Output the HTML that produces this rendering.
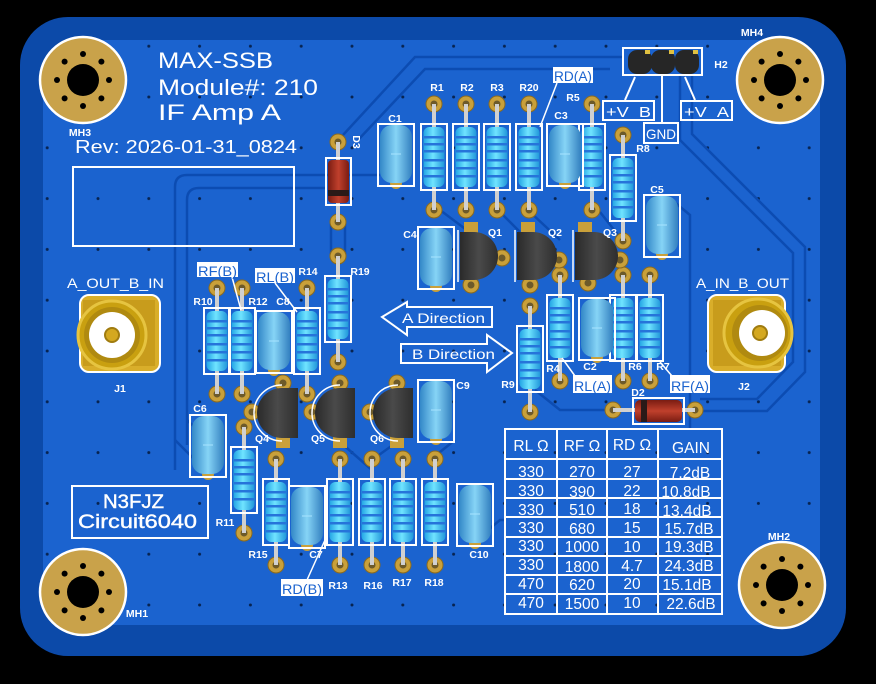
<!DOCTYPE html>
<html><head><meta charset="utf-8"><style>
html,body{margin:0;padding:0;background:#000;}
svg{display:block;}
text{font-family:"Liberation Sans",sans-serif;fill:#fff;}
.s{font-weight:bold;font-size:10.5px;text-anchor:middle;}
.inv{font-size:14px;fill:#1b63cf;}
</style></head><body>
<svg width="876" height="684" viewBox="0 0 876 684" xmlns="http://www.w3.org/2000/svg">
<defs>
<linearGradient id="rg" x1="0" x2="1" y1="0" y2="0">
<stop offset="0" stop-color="#22a4e4"/><stop offset="0.45" stop-color="#70e4ff"/><stop offset="1" stop-color="#2096da"/>
</linearGradient>
<linearGradient id="cg" x1="0" x2="1" y1="0" y2="0">
<stop offset="0" stop-color="#3388c8"/><stop offset="0.5" stop-color="#86d4f6"/><stop offset="1" stop-color="#3380c0"/>
</linearGradient>
<linearGradient id="tg" x1="0" x2="1" y1="0" y2="0">
<stop offset="0" stop-color="#2a2a2a"/><stop offset="0.5" stop-color="#4a4a4a"/><stop offset="1" stop-color="#2e2e2e"/>
</linearGradient>
<linearGradient id="dg" x1="0" x2="1" y1="0" y2="0">
<stop offset="0" stop-color="#7a1c12"/><stop offset="0.5" stop-color="#c0402c"/><stop offset="1" stop-color="#7a1c12"/>
</linearGradient>
<linearGradient id="dgh" x1="0" x2="0" y1="0" y2="1">
<stop offset="0" stop-color="#7a1c12"/><stop offset="0.5" stop-color="#c0402c"/><stop offset="1" stop-color="#7a1c12"/>
</linearGradient>
<pattern id="dots" patternUnits="userSpaceOnUse" x="72.6" y="71.6" width="50.8" height="50.8">
<circle cx="25.4" cy="25.4" r="1.5" fill="#072350"/>
</pattern>
<g id="pad"><circle r="8" fill="#c9a03a" stroke="#8a6a20" stroke-width="1"/><circle r="3.5" fill="#6d5a2a"/></g>
<g id="res">
<use href="#pad" y="-53"/><use href="#pad" y="53"/>
<line x1="0" y1="-53" x2="0" y2="53" stroke="#d0d0d0" stroke-width="4"/>
<rect x="-13" y="-33" width="26" height="66" fill="none" stroke="#fff" stroke-width="2"/>
<rect x="-10.5" y="-30" width="21" height="60" rx="6" fill="url(#rg)"/>
<g fill="#2674da">
<rect x="-10" y="-21" width="20" height="2.5"/><rect x="-10" y="-14" width="20" height="2.5"/>
<rect x="-10" y="-7" width="20" height="2.5"/><rect x="-10" y="2" width="20" height="2.5"/>
<rect x="-10" y="10" width="20" height="2.5"/><rect x="-10" y="18" width="20" height="2.5"/>
</g>
</g>
<g id="cap">
<circle cy="29" r="6" fill="#c9a03a"/>
<rect x="-18" y="-30" width="36" height="62" fill="none" stroke="#fff" stroke-width="2"/>
<rect x="-16" y="-29" width="32" height="58" rx="12" fill="url(#cg)"/>
<line x1="-5" y1="0" x2="5" y2="0" stroke="#a8e4ff" stroke-width="1"/>
</g>
<g id="mh">
<circle r="43" fill="#c9a24a" stroke="#fff" stroke-width="2.5"/>
<circle r="16" fill="#000"/>
<g fill="#000">
<circle cx="26" r="3"/><circle cx="-26" r="3"/><circle cy="26" r="3"/><circle cy="-26" r="3"/>
<circle cx="18.4" cy="18.4" r="3"/><circle cx="-18.4" cy="18.4" r="3"/><circle cx="18.4" cy="-18.4" r="3"/><circle cx="-18.4" cy="-18.4" r="3"/>
</g>
</g>
</defs>

<rect width="876" height="684" fill="#000"/>
<!-- board -->
<rect x="20" y="17" width="826" height="639" rx="48" fill="#0c4aa9"/>
<rect x="43" y="40" width="777" height="585" rx="38" fill="#1b63cf"/>
<rect x="43" y="40" width="777" height="585" rx="38" fill="url(#dots)"/>

<!-- traces -->
<g fill="none" stroke="#0c4cb2" stroke-width="2.5">
<path d="M175,470 V187 Q175,175 187,175 H380"/>
<path d="M187,445 V200 Q187,188 199,188 H326"/>
<path d="M343,135 L415,57 H622"/>
<path d="M358,140 L425,69 H610"/>
<path d="M680,76 V140 L793,253 V362 L757,399 H700"/>
<path d="M692,76 V134 L805,247 V372 L767,411 H700"/>
<path d="M672,200 L690,215 V430"/>
<path d="M331,222 V256 M345,222 V256"/>
<path d="M175,440 L200,465"/>
<path d="M187,420 L205,437"/>
<path d="M440,210 L480,240"/>
<path d="M500,212 L520,232"/>
<path d="M535,390 L560,410 H613"/>
<path d="M340,442 L372,470"/>
<path d="M397,442 L372,460"/>
<path d="M430,460 L455,440"/>
<path d="M470,545 L500,520 H505"/>
<path d="M530,212 L560,240"/>
<path d="M600,212 L622,240"/>
</g>

<!-- mounting holes -->
<use href="#mh" x="83" y="80"/>
<use href="#mh" x="780" y="80"/>
<use href="#mh" x="83" y="592"/>
<use href="#mh" x="782" y="585"/>
<text class="s" x="80" y="136">MH3</text>
<text class="s" x="752" y="36">MH4</text>
<text class="s" x="137" y="617">MH1</text>
<text class="s" x="779" y="540">MH2</text>

<!-- title -->
<text x="158" y="68" font-size="22" textLength="115" lengthAdjust="spacingAndGlyphs">MAX-SSB</text>
<text x="158" y="95" font-size="22" textLength="160" lengthAdjust="spacingAndGlyphs">Module#: 210</text>
<text x="158" y="120" font-size="22" textLength="123" lengthAdjust="spacingAndGlyphs">IF Amp A</text>
<text x="75" y="153" font-size="18" textLength="222" lengthAdjust="spacingAndGlyphs">Rev: 2026-01-31_0824</text>
<rect x="73" y="167" width="221" height="79" fill="none" stroke="#fff" stroke-width="2"/>

<!-- N3FJZ -->
<rect x="72" y="486" width="136" height="52" fill="none" stroke="#fff" stroke-width="2"/>
<text x="103" y="508" font-size="19" textLength="61" lengthAdjust="spacingAndGlyphs" stroke="#fff" stroke-width="0.4">N3FJZ</text>
<text x="78" y="528" font-size="19" textLength="119" lengthAdjust="spacingAndGlyphs" stroke="#fff" stroke-width="0.4">Circuit6040</text>

<!-- connectors -->
<text x="67" y="288" font-size="14" textLength="97" lengthAdjust="spacingAndGlyphs">A_OUT_B_IN</text>
<text x="696" y="288" font-size="14" textLength="93" lengthAdjust="spacingAndGlyphs">A_IN_B_OUT</text>
<g>
<rect x="80" y="295" width="80" height="77" rx="9" fill="#d9ae2a" stroke="#fff" stroke-width="2"/>
<rect x="83" y="300" width="72" height="66" fill="#c89c1c"/>
<circle cx="112" cy="335" r="34" fill="#c9a010" stroke="#e6c440" stroke-width="3"/>
<circle cx="112" cy="335" r="28" fill="#b08a10"/>
<circle cx="112" cy="335" r="23" fill="#fff"/>
<circle cx="112" cy="335" r="7" fill="#d4a820" stroke="#a07c10" stroke-width="2"/>
</g>
<text class="s" x="120" y="392">J1</text>
<g>
<rect x="708" y="295" width="77" height="77" rx="9" fill="#d9ae2a" stroke="#fff" stroke-width="2"/>
<rect x="713" y="300" width="68" height="66" fill="#c89c1c"/>
<circle cx="758" cy="333" r="34" fill="#c9a010" stroke="#e6c440" stroke-width="3"/>
<circle cx="760" cy="333" r="28" fill="#b08a10"/>
<circle cx="762" cy="333" r="23" fill="#fff"/>
<circle cx="760" cy="333" r="7" fill="#d4a820" stroke="#a07c10" stroke-width="2"/>
</g>
<text class="s" x="744" y="390">J2</text>

<!-- header H2 -->
<rect x="623" y="48" width="79" height="27" fill="none" stroke="#fff" stroke-width="2"/>
<g fill="#262626">
<rect x="628" y="50" width="24" height="24" rx="9"/>
<rect x="651" y="50" width="24" height="24" rx="9"/>
<rect x="675" y="50" width="24" height="24" rx="9"/>
</g>
<g fill="#e0c040"><rect x="645" y="50" width="5" height="4"/><rect x="669" y="50" width="5" height="4"/><rect x="693" y="50" width="5" height="4"/></g>
<text class="s" x="721" y="68">H2</text>
<g stroke="#fff" stroke-width="2" fill="none">
<path d="M635,77 L625,100"/><path d="M662,75 V123"/><path d="M685,77 L695,100"/>
<rect x="603" y="101" width="51" height="19"/>
<rect x="644" y="123" width="34" height="20"/>
<rect x="681" y="101" width="51" height="19"/>
</g>
<text x="606" y="117" font-size="15" textLength="45" lengthAdjust="spacingAndGlyphs">+V_B</text>
<text x="646" y="139" font-size="14" textLength="30" lengthAdjust="spacingAndGlyphs">GND</text>
<text x="684" y="117" font-size="15" textLength="45" lengthAdjust="spacingAndGlyphs">+V_A</text>

<!-- D3 -->
<use href="#pad" x="338" y="142"/><use href="#pad" x="338" y="222"/>
<use href="#pad" x="338" y="256"/>
<line x1="338" y1="142" x2="338" y2="222" stroke="#d0d0d0" stroke-width="4"/>
<rect x="326" y="158" width="25" height="47" fill="none" stroke="#fff" stroke-width="2"/>
<rect x="328" y="160" width="21" height="43" rx="4" fill="url(#dg)"/>
<rect x="328" y="190" width="21" height="6" fill="#2a1a18"/>
<text class="s" x="357" y="142" transform="rotate(90 357 142)" dy="4">D3</text>

<!-- D2 -->
<use href="#pad" x="613" y="410"/><use href="#pad" x="695" y="410"/>
<line x1="613" y1="410" x2="695" y2="410" stroke="#d0d0d0" stroke-width="4"/>
<rect x="633" y="398" width="51" height="26" fill="none" stroke="#fff" stroke-width="2"/>
<rect x="635" y="400" width="47" height="22" rx="5" fill="url(#dgh)"/>
<rect x="641" y="400" width="6" height="22" fill="#2a1a18"/>
<text class="s" x="638" y="396">D2</text>

<!-- resistors -->
<use href="#res" x="434" y="157"/>
<use href="#res" x="466" y="157"/>
<use href="#res" x="497" y="157"/>
<use href="#res" x="529" y="157"/>
<use href="#res" x="592" y="157"/>
<use href="#res" x="623" y="188"/>
<use href="#res" x="338" y="309"/>
<use href="#res" x="217" y="341"/>
<use href="#res" x="242" y="341"/>
<use href="#res" x="307" y="341"/>
<use href="#res" x="560" y="328"/>
<use href="#res" x="623" y="328"/>
<use href="#res" x="650" y="328"/>
<use href="#res" x="530" y="359"/>
<use href="#res" x="244" y="480"/>
<use href="#res" x="276" y="512"/>
<use href="#res" x="340" y="512"/>
<use href="#res" x="372" y="512"/>
<use href="#res" x="403" y="512"/>
<use href="#res" x="435" y="512"/>

<!-- capacitors -->
<use href="#cap" x="396" y="154"/>
<use href="#cap" x="565" y="154"/>
<use href="#cap" x="662" y="225"/>
<use href="#cap" x="436" y="257"/>
<use href="#cap" x="274" y="341"/>
<use href="#cap" x="597" y="328"/>
<use href="#cap" x="436" y="410"/>
<use href="#cap" x="208" y="445"/>
<use href="#cap" x="307" y="516"/>
<use href="#cap" x="475" y="514"/>

<!-- transistors Q1-Q3 -->
<g>
<rect x="464" y="222" width="14" height="12" fill="#c9a03a"/>
<rect x="521" y="222" width="14" height="12" fill="#c9a03a"/>
<rect x="578" y="222" width="14" height="12" fill="#c9a03a"/>
<use href="#pad" x="502" y="258"/><use href="#pad" x="471" y="285"/>
<use href="#pad" x="559" y="260"/><use href="#pad" x="530" y="285"/>
<use href="#pad" x="620" y="260"/><use href="#pad" x="588" y="283"/>
<g fill="none" stroke="#fff" stroke-width="1.5">
<path d="M458,230 V282"/><path d="M515,230 V282"/><path d="M573,230 V282"/>
</g>
<path d="M460,232 H474 A24,24 0 0 1 474,280 H460 Z" fill="url(#tg)"/>
<path d="M517,232 H533 A24,24 0 0 1 533,280 H517 Z" fill="url(#tg)"/>
<path d="M575,232 H594 A24,24 0 0 1 594,280 H575 Z" fill="url(#tg)"/>
</g>
<!-- transistors Q4-Q6 -->
<g>
<rect x="276" y="436" width="14" height="12" fill="#c9a03a"/>
<rect x="333" y="436" width="14" height="12" fill="#c9a03a"/>
<rect x="390" y="436" width="14" height="12" fill="#c9a03a"/>
<use href="#pad" x="283" y="383"/><use href="#pad" x="252" y="412"/>
<use href="#pad" x="340" y="383"/><use href="#pad" x="312" y="412"/>
<use href="#pad" x="397" y="383"/><use href="#pad" x="370" y="412"/>
<g fill="none" stroke="#fff" stroke-width="1.5">
<path d="M282,385 A27,27 0 0 0 282,441"/>
<path d="M340,385 A27,27 0 0 0 340,441"/>
<path d="M398,385 A27,27 0 0 0 398,441"/>
</g>
<path d="M298,388 H282 A25,25 0 0 0 282,438 H298 Z" fill="url(#tg)"/>
<path d="M355,388 H340 A25,25 0 0 0 340,438 H355 Z" fill="url(#tg)"/>
<path d="M413,388 H398 A25,25 0 0 0 398,438 H413 Z" fill="url(#tg)"/>
</g>

<!-- component labels -->
<text class="s" x="437" y="91">R1</text>
<text class="s" x="467" y="91">R2</text>
<text class="s" x="497" y="91">R3</text>
<text class="s" x="529" y="91">R20</text>
<text class="s" x="573" y="101">R5</text>
<text class="s" x="395" y="122">C1</text>
<text class="s" x="561" y="119">C3</text>
<text class="s" x="643" y="152">R8</text>
<text class="s" x="657" y="193">C5</text>
<text class="s" x="410" y="238">C4</text>
<text class="s" x="495" y="236">Q1</text>
<text class="s" x="555" y="236">Q2</text>
<text class="s" x="610" y="236">Q3</text>
<text class="s" x="203" y="305">R10</text>
<text class="s" x="258" y="305">R12</text>
<text class="s" x="283" y="305">C8</text>
<text class="s" x="308" y="275">R14</text>
<text class="s" x="360" y="275">R19</text>
<text class="s" x="200" y="412">C6</text>
<text class="s" x="463" y="389">C9</text>
<text class="s" x="262" y="442">Q4</text>
<text class="s" x="318" y="442">Q5</text>
<text class="s" x="377" y="442">Q6</text>
<text class="s" x="553" y="372">R4</text>
<text class="s" x="590" y="370">C2</text>
<text class="s" x="635" y="370">R6</text>
<text class="s" x="663" y="370">R7</text>
<text class="s" x="508" y="388">R9</text>
<text class="s" x="225" y="526">R11</text>
<text class="s" x="258" y="558">R15</text>
<text class="s" x="316" y="558">C7</text>
<text class="s" x="338" y="589">R13</text>
<text class="s" x="373" y="589">R16</text>
<text class="s" x="402" y="586">R17</text>
<text class="s" x="434" y="586">R18</text>
<text class="s" x="479" y="558">C10</text>

<!-- inverted labels and leaders -->
<g stroke="#fff" stroke-width="1.5">
<line x1="557" y1="83" x2="540" y2="127"/>
<line x1="232" y1="277" x2="241" y2="310"/>
<line x1="275" y1="283" x2="297" y2="312"/>
<line x1="575" y1="376" x2="562" y2="358"/>
<line x1="672" y1="376" x2="660" y2="362"/>
<line x1="307" y1="580" x2="325" y2="540"/>
</g>
<g fill="#fff">
<rect x="553" y="67" width="40" height="16"/>
<rect x="197" y="262" width="41" height="15"/>
<rect x="255" y="268" width="40" height="15"/>
<rect x="573" y="375" width="39" height="18"/>
<rect x="670" y="375" width="40" height="18"/>
<rect x="281" y="579" width="42" height="17"/>
</g>
<text class="inv" x="554" y="81" textLength="38" lengthAdjust="spacingAndGlyphs">RD(A)</text>
<text class="inv" x="198" y="276" textLength="39" lengthAdjust="spacingAndGlyphs">RF(B)</text>
<text class="inv" x="256" y="282" textLength="38" lengthAdjust="spacingAndGlyphs">RL(B)</text>
<text class="inv" x="574" y="391" textLength="37" lengthAdjust="spacingAndGlyphs">RL(A)</text>
<text class="inv" x="671" y="391" textLength="38" lengthAdjust="spacingAndGlyphs">RF(A)</text>
<text class="inv" x="282" y="594" textLength="40" lengthAdjust="spacingAndGlyphs">RD(B)</text>

<!-- direction arrows -->
<path d="M382,317 L407,302 V307 H492 V327 H407 V335 Z" fill="none" stroke="#fff" stroke-width="2"/>
<text x="402" y="323" font-size="14" textLength="83" lengthAdjust="spacingAndGlyphs">A Direction</text>
<path d="M401,344 H487 V335 L512,353 L487,372 V363 H401 Z" fill="none" stroke="#fff" stroke-width="2"/>
<text x="412" y="359" font-size="14" textLength="83" lengthAdjust="spacingAndGlyphs">B Direction</text>

<!-- table -->
<g stroke="#fff" stroke-width="2" fill="none">
<rect x="505" y="429" width="217" height="185"/>
<line x1="557" y1="429" x2="557" y2="614"/>
<line x1="607" y1="429" x2="607" y2="614"/>
<line x1="658" y1="429" x2="658" y2="614"/>
<line x1="505" y1="459" x2="722" y2="459"/>
<line x1="505" y1="479" x2="722" y2="479"/>
<line x1="505" y1="498" x2="722" y2="498"/>
<line x1="505" y1="517" x2="722" y2="517"/>
<line x1="505" y1="537" x2="722" y2="537"/>
<line x1="505" y1="556" x2="722" y2="556"/>
<line x1="505" y1="575" x2="722" y2="575"/>
<line x1="505" y1="594" x2="722" y2="594"/>
</g>
<g font-size="15.5" text-anchor="middle">
<text x="531" y="451">RL Ω</text><text x="582" y="451">RF Ω</text><text x="632" y="450">RD Ω</text><text x="691" y="453">GAIN</text>
<text x="531" y="477">330</text><text x="582" y="477">270</text><text x="632" y="477">27</text><text x="690" y="478">7.2dB</text>
<text x="531" y="496">330</text><text x="582" y="497">390</text><text x="632" y="496">22</text><text x="686" y="497">10.8dB</text>
<text x="531" y="515">330</text><text x="582" y="515">510</text><text x="632" y="514">18</text><text x="687" y="516">13.4dB</text>
<text x="531" y="533">330</text><text x="582" y="534">680</text><text x="632" y="533">15</text><text x="689" y="534">15.7dB</text>
<text x="531" y="551">330</text><text x="582" y="552">1000</text><text x="632" y="552">10</text><text x="689" y="552">19.3dB</text>
<text x="531" y="570">330</text><text x="582" y="572">1800</text><text x="632" y="571">4.7</text><text x="689" y="571">24.3dB</text>
<text x="531" y="589">470</text><text x="582" y="590">620</text><text x="632" y="589">20</text><text x="687" y="590">15.1dB</text>
<text x="531" y="608">470</text><text x="582" y="609">1500</text><text x="632" y="608">10</text><text x="691" y="609">22.6dB</text>
</g>
</svg>
</body></html>
